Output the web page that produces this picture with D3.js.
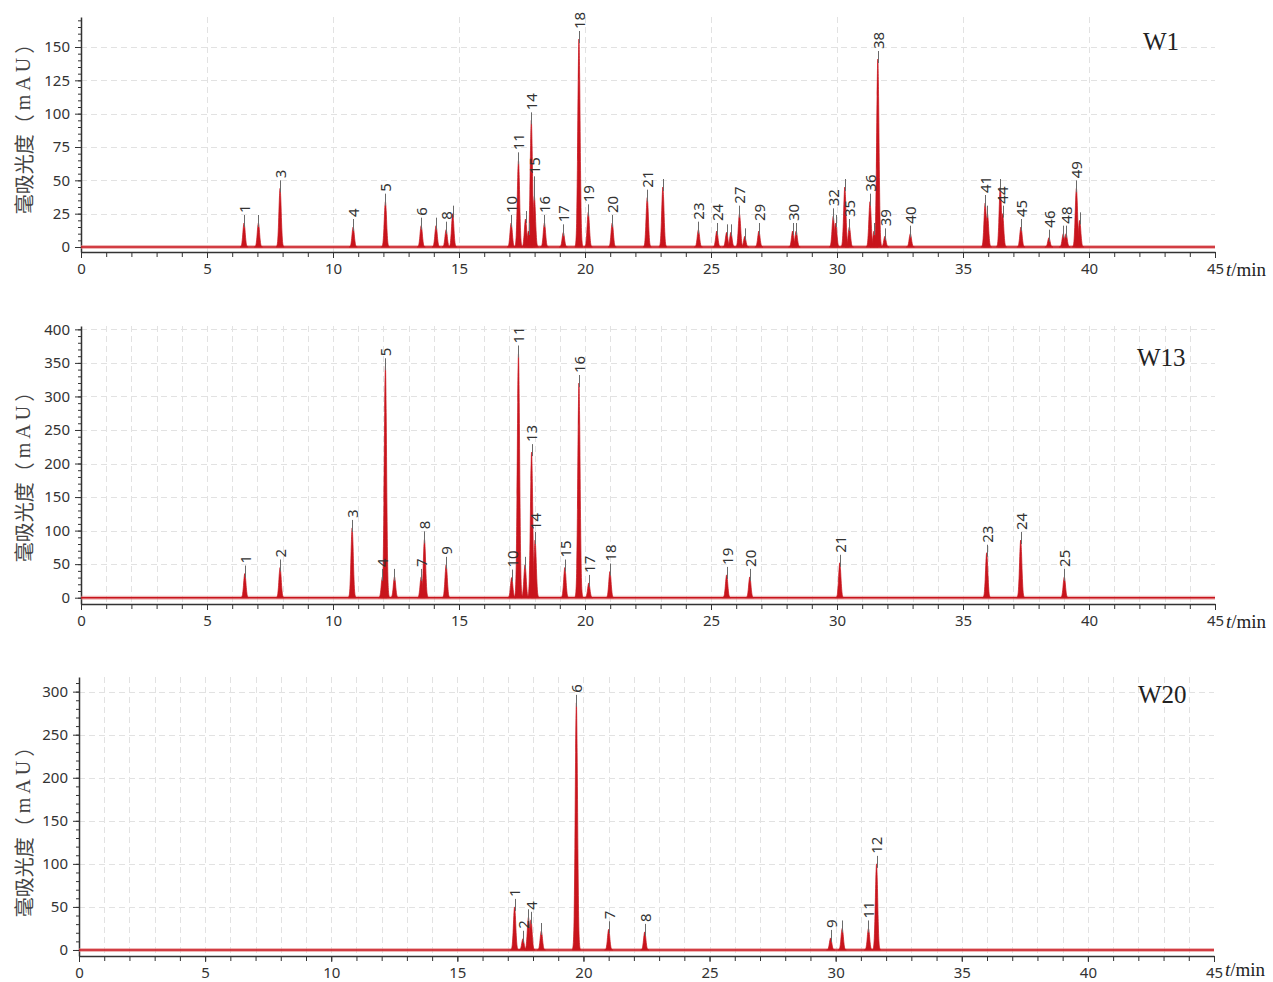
<!DOCTYPE html>
<html>
<head>
<meta charset="utf-8">
<script src="https://cdn.jsdelivr.net/npm/d3@7"></script>
<style>
  body { margin: 0; background: #fff; }
  svg { display: block; }
</style>
</head>
<body>
<svg id="chart" width="1273" height="982"></svg>
<script>
// ---- data (retention time in min, height in mAU, peak number) ----
const w1Times = [6.47, 7.04, 7.90, 10.80, 12.08, 13.50, 14.09, 14.49, 14.75, 17.07, 17.36, 17.64, 17.76, 17.87, 17.99, 18.39, 19.14, 19.76, 20.13, 21.08,
  22.47, 23.09, 24.50, 25.23, 25.62, 25.79, 26.13, 26.34, 26.90, 28.24, 28.38, 29.85, 29.95, 30.31, 30.49, 31.31, 31.47, 31.62, 31.90, 32.91,
  35.88, 35.97, 36.48, 36.57, 37.30, 38.41, 38.98, 39.09, 39.50, 39.63];
const w1Heights = [18, 18, 44, 15, 34, 16, 16, 13, 25, 18, 65, 21, 12, 95, 38, 18, 11, 156, 26, 18,
  37, 45, 13, 12, 11, 11, 25, 8, 12, 12, 12, 23, 18, 45, 15, 34, 12, 141, 8, 10,
  33, 25, 45, 25, 15, 7, 10, 10, 44, 20];
const w1Labels = ["1", "", "3", "4", "5", "6", "", "8", "", "10", "11", "", "", "14", "15", "16", "17", "18", "19", "20",
  "21", "", "23", "24", "", "", "27", "", "29", "30", "", "32", "", "", "35", "36", "", "38", "39", "40",
  "41", "", "", "44", "45", "46", "", "48", "49", ""];

const w13Times = [6.50, 7.90, 10.76, 11.96, 12.08, 12.44, 13.50, 13.63, 14.49, 17.09, 17.36, 17.62, 17.88, 18.02, 19.20, 19.76, 20.15, 20.99,
  25.62, 26.54, 30.11, 35.94, 37.29, 39.02];
const w13Heights = [36, 45, 104, 31, 345, 31, 31, 87, 49, 30, 364, 49, 217, 86, 45, 320, 22, 39, 34, 31, 52, 67, 86, 31];
const w13Labels = ["1", "2", "3", "4", "5", "", "7", "8", "9", "10", "11", "", "13", "14", "15", "16", "17", "18", "19", "20", "21", "23", "24", "25"];

const w20Times = [17.27, 17.60, 17.82, 17.92, 18.33, 19.72, 21.00, 22.43, 29.80, 30.26, 31.30, 31.62];
const w20Heights = [50, 13, 38, 35, 22, 287, 24, 21, 14, 25, 25, 100];
const w20Labels = ["1", "2", "", "4", "", "6", "7", "8", "9", "", "11", "12"];

const sampleNames = ["W1", "W13", "W20"];
const xTickValues = [0, 5, 10, 15, 20, 25, 30, 35, 40, 45];
const w1YTicks = [0, 25, 50, 75, 100, 125, 150];
const w13YTicks = [0, 50, 100, 150, 200, 250, 300, 350, 400];
const w20YTicks = [0, 50, 100, 150, 200, 250, 300];

// ---- layout / style ----
const RED = "#c8141c";
const FONT = "'Noto Sans', 'DejaVu Sans', sans-serif";
const SERIF = "'Liberation Serif', 'DejaVu Serif', serif";
const LEADER_UP = 8, LEADER_DOWN = 4;
// gaussian-like peak outline: [offset in min, fraction of height]
const PEAK_SHAPE = [[-0.16, 0], [-0.12, 0.03], [-0.09, 0.135], [-0.06, 0.41], [-0.03, 0.8], [0, 1],
  [0.03, 0.8], [0.06, 0.41], [0.09, 0.135], [0.12, 0.03], [0.16, 0]];

const panels = [
  { name: sampleNames[0], times: w1Times, heights: w1Heights, labels: w1Labels, yTicks: w1YTicks, minor: 5,
    yDomain: [-3.75, 172.5], top: 17, bottom: 252, left: 81, right: 1215, gridX: 5, titleX: 1143, titleY: 50,
    yTitleY: 124, unitDy: 24, extraLeader: { "15": 12 } },
  { name: sampleNames[1], times: w13Times, heights: w13Heights, labels: w13Labels, yTicks: w13YTicks, minor: 10,
    yDomain: [-9.4, 405], top: 326, bottom: 604, left: 81, right: 1215, gridX: 1, titleX: 1137, titleY: 366,
    yTitleY: 472, unitDy: 24, extraLeader: {} },
  { name: sampleNames[2], times: w20Times, heights: w20Heights, labels: w20Labels, yTicks: w20YTicks, minor: 10,
    yDomain: [-7, 317], top: 677, bottom: 956, left: 79, right: 1214, gridX: 1, titleX: 1138, titleY: 703,
    yTitleY: 827, unitDy: 20, extraLeader: {} }
];

const svg = d3.select("#chart");

panels.forEach(p => {
  const g = svg.append("g");
  const x = d3.scaleLinear().domain([0, 45]).range([p.left, p.right]);
  const y = d3.scaleLinear().domain(p.yDomain).range([p.bottom, p.top]);

  // grid
  const grid = g.append("g").attr("stroke", "#e2e2e2").attr("stroke-dasharray", "6,4").attr("stroke-width", 1);
  grid.selectAll("line.h").data(p.yTicks.filter(v => v > 0)).join("line")
    .attr("x1", p.left).attr("x2", p.right)
    .attr("y1", d => Math.round(y(d)) + 0.5).attr("y2", d => Math.round(y(d)) + 0.5);
  grid.selectAll("line.v").data(d3.range(p.gridX, 45, p.gridX)).join("line")
    .attr("x1", d => Math.round(x(d)) + 0.5).attr("x2", d => Math.round(x(d)) + 0.5)
    .attr("y1", p.top).attr("y2", p.bottom);

  // minor ticks
  const yMinor = d3.range(0, p.yDomain[1], p.minor);
  g.append("g").attr("transform", `translate(${p.left},0)`)
    .call(d3.axisLeft(y).tickValues(yMinor).tickFormat("").tickSize(3).tickSizeOuter(0))
    .call(a => a.select(".domain").remove())
    .call(a => a.selectAll("line").attr("stroke", "#333"));
  g.append("g").attr("transform", `translate(0,${p.bottom})`)
    .call(d3.axisBottom(x).tickValues(d3.range(0, 46, 1)).tickFormat("").tickSize(5).tickSizeOuter(0))
    .call(a => a.select(".domain").remove())
    .call(a => a.selectAll("line").attr("stroke", "#333"));

  // major axes
  g.append("g").attr("transform", `translate(${p.left},0)`)
    .call(d3.axisLeft(y).tickValues(p.yTicks).tickSize(6).tickPadding(5).tickSizeOuter(0))
    .call(a => a.select(".domain").attr("stroke", "#333").attr("stroke-width", 1.5))
    .call(a => a.selectAll("line").attr("stroke", "#333"))
    .call(a => a.selectAll("text").attr("font-family", FONT).attr("font-size", 15).attr("fill", "#333"));
  g.append("g").attr("transform", `translate(0,${p.bottom})`)
    .call(d3.axisBottom(x).tickValues(xTickValues).tickSize(6).tickPadding(5).tickSizeOuter(0))
    .call(a => a.select(".domain").attr("stroke", "#333").attr("stroke-width", 1.5))
    .call(a => a.selectAll("line").attr("stroke", "#333"))
    .call(a => a.selectAll("text").attr("font-family", FONT).attr("font-size", 15).attr("fill", "#333"));

  // y axis title
  const yt = g.append("text")
    .attr("transform", `translate(23,${p.yTitleY}) rotate(-90)`)
    .attr("text-anchor", "middle").attr("dominant-baseline", "central")
    .attr("font-family", "'Noto Sans CJK SC', sans-serif").attr("font-size", 20).attr("fill", "#444");
  yt.append("tspan").text("毫吸光度（");
  yt.append("tspan").attr("font-family", SERIF).attr("letter-spacing", 4).attr("dx", 4).text("mAU");
  yt.append("tspan").text("）");

  // x axis unit
  const xt = g.append("text").attr("x", p.right + 11).attr("y", p.bottom + p.unitDy)
    .attr("font-family", SERIF).attr("font-size", 19).attr("fill", "#222");
  xt.append("tspan").attr("font-style", "italic").text("t");
  xt.append("tspan").text("/min");

  // sample name
  g.append("text").attr("x", p.titleX).attr("y", p.titleY)
    .attr("font-family", SERIF).attr("font-size", 25).attr("fill", "#222").text(p.name);

  // trace: baseline + peaks
  const peaks = p.times.map((t, i) => ({ t, h: p.heights[i], label: p.labels[i] }));
  g.append("line").attr("x1", x(0)).attr("x2", x(45)).attr("y1", y(0)).attr("y2", y(0))
    .attr("stroke", "#e07a7a").attr("stroke-width", 4).attr("stroke-opacity", 0.55);
  const area = d3.area().curve(d3.curveMonotoneX);
  g.append("g").selectAll("path").data(peaks).join("path")
    .attr("d", d => area
      .x(s => x(d.t + s[0]))
      .y0(y(0))
      .y1(s => y(d.h * s[1]))(PEAK_SHAPE))
    .attr("fill", RED).attr("stroke", RED).attr("stroke-width", 1).attr("stroke-opacity", 0.7);
  g.append("line").attr("x1", x(0)).attr("x2", x(45)).attr("y1", y(0)).attr("y2", y(0))
    .attr("stroke", RED).attr("stroke-width", 1.6);

  // leaders + peak numbers
  const lead = d => LEADER_UP + (p.extraLeader[d.label] || 0);
  g.append("g").selectAll("line").data(peaks).join("line")
    .attr("x1", d => Math.round(x(d.t)) + 0.5).attr("x2", d => Math.round(x(d.t)) + 0.5)
    .attr("y1", d => y(d.h) + LEADER_DOWN).attr("y2", d => y(d.h) - lead(d))
    .attr("stroke", "#6a6a6a").attr("stroke-width", 1);
  g.append("g").selectAll("text").data(peaks.filter(d => d.label)).join("text")
    .attr("transform", d => `translate(${x(d.t) + 0.5},${y(d.h) - lead(d) - 2}) rotate(-90)`)
    .attr("dy", "0.36em")
    .attr("font-family", FONT).attr("font-size", 15).attr("fill", "#333")
    .text(d => d.label);
});
</script>
</body>
</html>
